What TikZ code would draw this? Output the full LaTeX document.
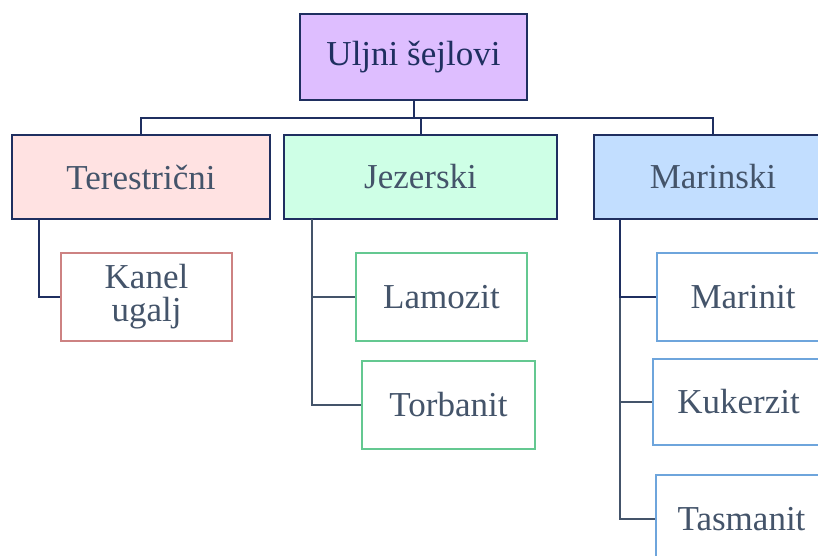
\documentclass[tikz,border=0pt]{standalone}
\usepackage{fontspec}
\setmainfont{Liberation Serif}
\newfontfamily\boxface{Liberation Serif}
\usetikzlibrary{positioning}
\definecolor{navy}{RGB}{31,47,96}
\definecolor{slate}{RGB}{68,84,106}
\definecolor{lavender}{RGB}{222,190,255}
\definecolor{rosefill}{RGB}{255,226,226}
\definecolor{mintfill}{RGB}{206,255,230}
\definecolor{skyfill}{RGB}{194,222,255}
\definecolor{roseline}{RGB}{205,130,130}
\definecolor{mintline}{RGB}{100,200,145}
\definecolor{skyline}{RGB}{110,165,220}

\begin{document}
\begin{tikzpicture}[x=1pt,y=-1pt,
  box/.style={draw, inner sep=0pt, align=center,
    font=\boxface\fontsize{35}{34}\selectfont},
  top/.style={box, draw=navy, line width=2.5pt, text=navy},
  group/.style={box, draw=navy, line width=2.5pt, text=slate,
    minimum height=84pt},
  leaf/.style={box, fill=white, line width=1.5pt, text=slate,
    minimum width=171pt, minimum height=88pt},
  link/.style={navy, line width=2pt},
  sublink/.style={slate, line width=2pt}]
\clip (0,0) rectangle (818,555);
\useasboundingbox (0,0) rectangle (818,555);

\node[top, fill=lavender, minimum width=227pt, minimum height=86pt] (root) at (413.5,57) {Uljni šejlovi};
\node[group, fill=rosefill, minimum width=258pt] (ter) at (141,177) {Terestrični};
\node[group, fill=mintfill, minimum width=273pt] (jez) at (420.5,177) {Jezerski};
\node[group, fill=skyfill, minimum width=238pt] (mar) at (713,177) {Marinski};

\node[leaf, draw=roseline] (kan) at (146.5,297) {Kanel\\[-1pt]ugalj};
\node[leaf, draw=mintline] (lam) at (441.5,297) {Lamozit};
\node[leaf, draw=mintline, minimum width=173pt] (tor) at (448.5,405) {Torbanit};
\node[leaf, draw=skyline, minimum width=172pt] (mrt) at (743,297) {Marinit};
\node[leaf, draw=skyline, minimum height=86pt] (kuk) at (738.5,402) {Kukerzit};
\node[leaf, draw=skyline] (tas) at (741.5,519) {Tasmanit};

\coordinate (bus) at (0,118);
\coordinate (tertrunk) at (39,219);
\coordinate (jeztrunk) at (312,219);
\coordinate (martrunk) at (620,219);

\draw[link] (root.south) -- (root.south |- bus);
\draw[link] (ter.north) -- (ter.north |- bus) -| (mar.north);
\draw[link] (jez.north) -- (jez.north |- bus);

\draw[link] (tertrunk) |- (kan.west);
\draw[sublink] (jeztrunk) |- (tor.west);
\draw[sublink] (jeztrunk |- lam.west) -- (lam.west);
\draw[sublink] (martrunk |- mrt.west) |- (tas.west);
\draw[sublink] (martrunk |- kuk.west) -- (kuk.west);
\draw[link] (martrunk) |- (mrt.west);
\end{tikzpicture}
\end{document}
